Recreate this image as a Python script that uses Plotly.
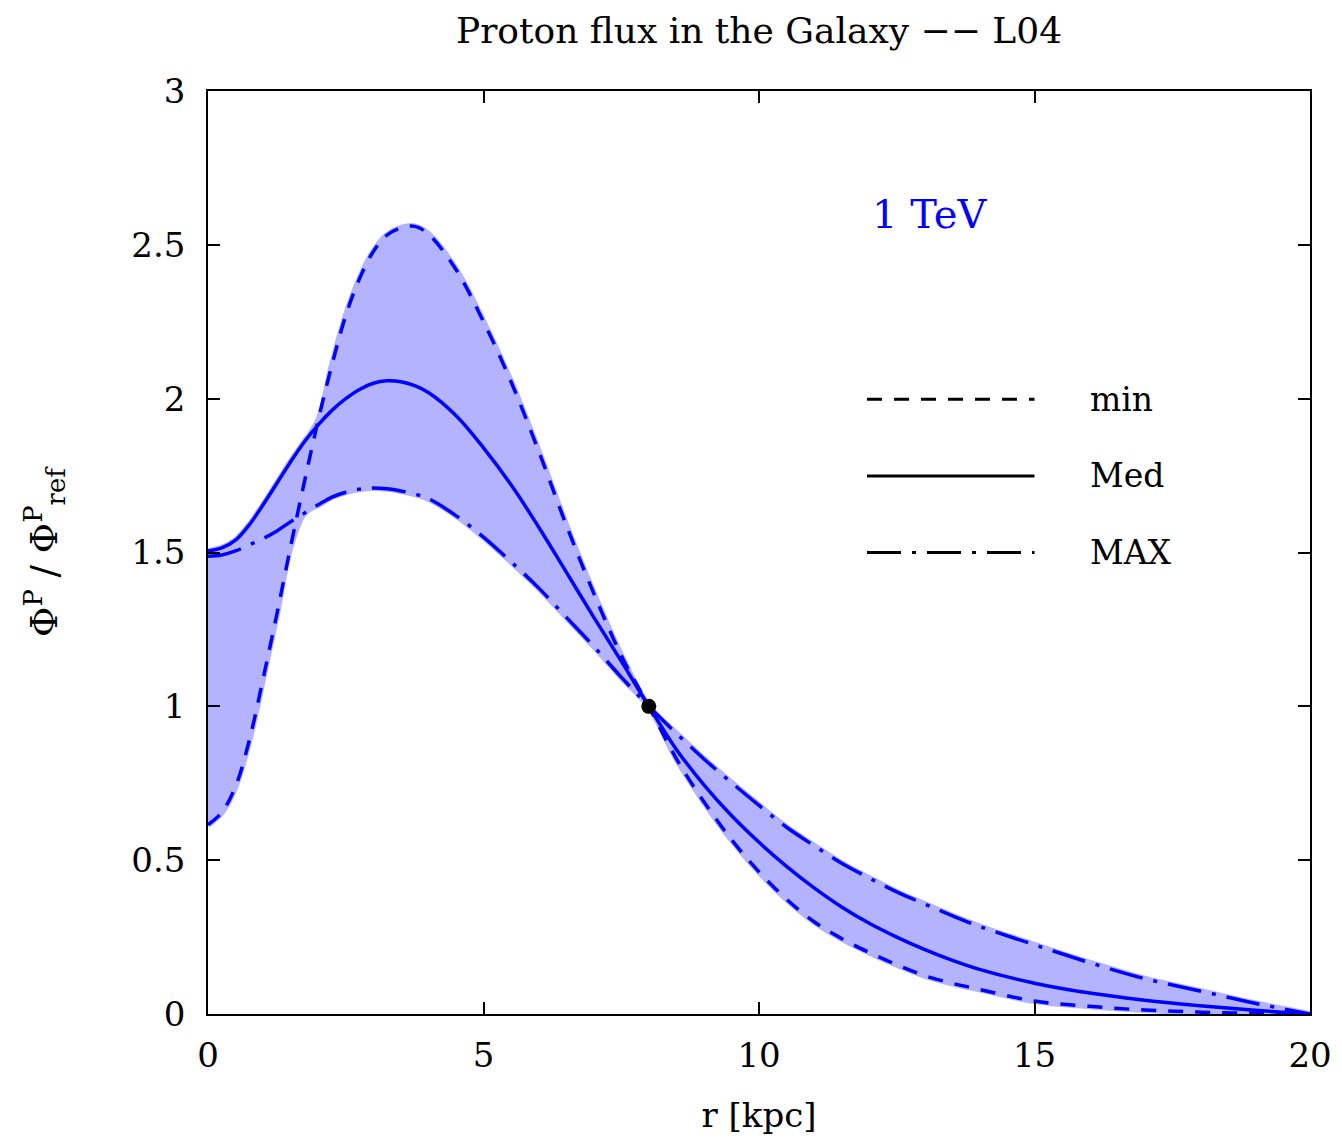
import numpy as np
import plotly.graph_objects as go

# ---- data ----
r_kpc = [0, 0.25, 0.5, 0.75, 1, 1.25, 1.5, 1.75, 2, 2.25, 2.5, 2.75, 3, 3.25, 3.5, 3.75,
         4, 4.5, 5, 5.5, 6, 6.5, 7, 7.5, 8, 8.5, 9, 9.5, 10, 10.5, 11, 11.5, 12, 12.5,
         13, 13.5, 14, 15, 16, 17, 18, 19, 20]

flux_min = [0.615, 0.655, 0.74, 0.89, 1.09, 1.30, 1.52, 1.73, 1.93, 2.11, 2.27, 2.39, 2.478,
            2.532, 2.555, 2.56, 2.535, 2.42, 2.25, 2.055, 1.83, 1.59, 1.368, 1.165, 1.0,
            0.83, 0.69, 0.567, 0.462, 0.373, 0.30, 0.245, 0.20, 0.16, 0.125, 0.10, 0.08,
            0.042, 0.025, 0.013, 0.006, 0.002, 0.0]

flux_med = [1.505, 1.515, 1.54, 1.59, 1.655, 1.725, 1.795, 1.86, 1.915, 1.962, 2.0, 2.03, 2.05,
            2.058, 2.055, 2.042, 2.02, 1.945, 1.84, 1.72, 1.583, 1.437, 1.29, 1.147, 1.0,
            0.86, 0.745, 0.645, 0.558, 0.48, 0.41, 0.348, 0.295, 0.25, 0.21, 0.175,
            0.145, 0.10, 0.068, 0.045, 0.027, 0.012, 0.0]

flux_max = [1.488, 1.492, 1.505, 1.525, 1.545, 1.57, 1.60, 1.628, 1.655, 1.68, 1.696, 1.706,
            1.71, 1.707, 1.70, 1.69, 1.675, 1.62, 1.55, 1.47, 1.385, 1.29, 1.195, 1.095, 1.0,
            0.912, 0.829, 0.752, 0.678, 0.607, 0.547, 0.49, 0.442, 0.397, 0.358, 0.32,
            0.285, 0.225, 0.167, 0.115, 0.075, 0.035, 0.0]

sun_r = [8.0]
sun_flux = [1.0]

x_ticks = [0, 5, 10, 15, 20]
y_ticks = [0, 0.5, 1, 1.5, 2, 2.5, 3]
y_tick_text = ["0", "0.5", "1", "1.5", "2", "2.5", "3"]

# ---- figure ----
FONT = "DejaVu Serif"
BLUE = "#0000ff"
BAND = "#b3b3ff"
DASH = "15px,12px"
DASHDOT = "34px,11px,4px,11px"

arr = np.array([flux_min, flux_med, flux_max])
band_lo = arr.min(axis=0)
band_hi = arr.max(axis=0)

fig = go.Figure()
fig.add_trace(go.Scatter(x=r_kpc, y=band_lo, mode="lines", line=dict(width=0, shape="spline"),
                         showlegend=False, hoverinfo="skip"))
fig.add_trace(go.Scatter(x=r_kpc, y=band_hi, mode="lines", fill="tonexty", fillcolor=BAND,
                         line=dict(width=6, color=BAND, shape="spline"),
                         showlegend=False, hoverinfo="skip"))
fig.add_trace(go.Scatter(x=r_kpc, y=band_lo, mode="lines",
                         line=dict(width=6, color=BAND, shape="spline"),
                         showlegend=False, hoverinfo="skip"))
fig.add_trace(go.Scatter(x=r_kpc, y=flux_min, mode="lines", name="min",
                         line=dict(color=BLUE, width=3.5, dash=DASH, shape="spline"),
                         showlegend=False))
fig.add_trace(go.Scatter(x=r_kpc, y=flux_med, mode="lines", name="Med",
                         line=dict(color=BLUE, width=3.5, shape="spline"), showlegend=False))
fig.add_trace(go.Scatter(x=r_kpc, y=flux_max, mode="lines", name="MAX",
                         line=dict(color=BLUE, width=3.5, dash=DASHDOT, shape="spline"),
                         showlegend=False))
fig.add_trace(go.Scatter(x=sun_r, y=sun_flux, mode="markers",
                         marker=dict(color="black", size=15), showlegend=False))

# custom legend (paper coordinates)
legend_rows = [("min", DASH, 0.666), ("Med", "solid", 0.583), ("MAX", DASHDOT, 0.5)]
for label, dash, yp in legend_rows:
    fig.add_shape(type="line", xref="paper", yref="paper", x0=0.598, x1=0.75, y0=yp, y1=yp,
                  line=dict(color="black", width=3, dash=dash))
    fig.add_annotation(xref="paper", yref="paper", x=0.799, y=yp, text=label, showarrow=False,
                       xanchor="left", yanchor="middle", font=dict(family=FONT, size=33, color="black"))

fig.add_annotation(x=13.1, y=2.6, text="1 TeV", showarrow=False, xanchor="center", yanchor="middle",
                   font=dict(family=FONT, size=40, color=BLUE))

fig.update_layout(
    width=1342, height=1142,
    margin=dict(l=200, r=40, t=83, b=136),
    plot_bgcolor="white", paper_bgcolor="white",
    title=dict(text="Proton flux in the Galaxy −− L04", x=0.5596, xanchor="center",
               y=0.98, yanchor="middle", font=dict(family=FONT, size=36, color="black")),
    font=dict(family=FONT, size=34, color="black"),
)
fig.update_xaxes(range=[0, 20], tickvals=x_ticks, ticks="inside", ticklen=12, tickwidth=1.5,
                 tickcolor="black", showline=True, linecolor="black", linewidth=1.5, mirror="ticks",
                 showgrid=False, zeroline=False, ticklabelstandoff=10,
                 title=dict(text="r [kpc]", font=dict(family=FONT, size=34), standoff=30),
                 tickfont=dict(family=FONT, size=34))
fig.update_yaxes(range=[0, 3], tickvals=y_ticks, ticktext=y_tick_text, ticks="inside", ticklen=12,
                 tickwidth=1.5, tickcolor="black", showline=True, linecolor="black", linewidth=1.5,
                 mirror="ticks", showgrid=False, zeroline=False, ticklabelstandoff=14,
                 title=dict(text="Φ<sup>P</sup> / Φ<sup>P</sup><sub>ref</sub>",
                            font=dict(family=FONT, size=37), standoff=62),
                 tickfont=dict(family=FONT, size=34))

fig.write_html("out.html")
